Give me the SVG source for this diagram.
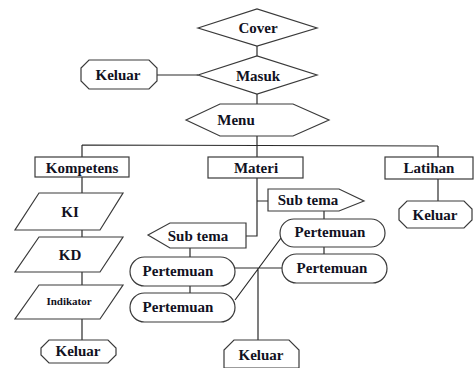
<svg xmlns="http://www.w3.org/2000/svg" width="476" height="368" viewBox="0 0 476 368">
<style>
.s{fill:#fff;stroke:#3a3a3a;stroke-width:1.2}
.c{fill:none;stroke:#2a2a2a;stroke-width:1.2}
text{font-family:"Liberation Serif","DejaVu Serif",serif;font-weight:bold;font-size:15px;fill:#111122;text-anchor:middle;dominant-baseline:central}
.sm{font-size:11px}
</style>
<rect width="476" height="368" fill="#fff"/>
<g id="connectors">
<path class="c" d="M257,46V56M157,75H198M257,94V104M257,136V145M82,145L438,146M82,145V157M257,145V157M438,146V157"/>
<path class="c" d="M82,177V193M82,230V237M82,272V285M82,319V340"/>
<path class="c" d="M438,179V201"/>
<path class="c" d="M257,178V236H246M257,201H268"/>
<path class="c" d="M190,248V257M190,286V293M324,211V219M324,247V254"/>
<path class="c" d="M235,268H282M235,300L281,238M258,268V340"/>
</g>
<g id="cover"><polygon class="s" points="198,28 257,9 317,28 257,46"/><text x="258" y="28">Cover</text></g>
<g id="masuk"><polygon class="s" points="198,75 257,56 317,75 257,94"/><text x="258" y="76">Masuk</text></g>
<g id="keluar1"><polygon class="s" points="89,60 149,60 157,68 157,81 149,89 89,89 81,81 81,68"/><text x="118" y="75">Keluar</text></g>
<g id="menu"><polygon class="s" points="186,120 220,104 293,104 329,120 293,136 220,136"/><text x="236" y="120">Menu</text></g>
<g id="kompetens"><rect class="s" x="35" y="157" width="94" height="20"/><text x="82" y="168">Kompetens</text></g>
<g id="materi"><rect class="s" x="208" y="157" width="95" height="21"/><text x="256" y="168">Materi</text></g>
<g id="latihan"><rect class="s" x="385" y="157" width="88" height="22"/><text x="429" y="168">Latihan</text></g>
<g id="keluar-latihan"><polygon class="s" points="407,201 464,201 472,209 472,220 464,228 407,228 399,220 399,209"/><text x="435" y="215">Keluar</text></g>
<g id="ki"><polygon class="s" points="39,193 123,193 100,230 15,230"/><text x="70" y="212">KI</text></g>
<g id="kd"><polygon class="s" points="39,237 123,237 100,272 15,272"/><text x="70" y="255">KD</text></g>
<g id="indikator"><polygon class="s" points="39,285 123,285 100,319 15,319"/><text class="sm" x="69" y="301">Indikator</text></g>
<g id="keluar-kompetens"><polygon class="s" points="49,340 108,340 116,348 116,355 108,363 49,363 41,355 41,348"/><text x="78" y="351">Keluar</text></g>
<g id="subtema-right"><polygon class="s" points="268,189 339,189 364,201 339,211 268,211"/><text x="308" y="200">Sub tema</text></g>
<g id="subtema-left"><polygon class="s" points="148,235 170,223 246,223 246,248 170,248"/><text x="198" y="236">Sub tema</text></g>
<g id="pertemuan-l1"><rect class="s" x="130" y="257" width="105" height="29" rx="14.5"/><text x="178" y="271">Pertemuan</text></g>
<g id="pertemuan-l2"><rect class="s" x="130" y="293" width="105" height="29" rx="14.5"/><text x="178" y="307">Pertemuan</text></g>
<g id="pertemuan-r1"><rect class="s" x="280" y="219" width="105" height="28" rx="14"/><text x="330" y="232">Pertemuan</text></g>
<g id="pertemuan-r2"><rect class="s" x="282" y="254" width="105" height="29" rx="14.5"/><text x="332" y="268">Pertemuan</text></g>
<g id="keluar-materi"><polygon class="s" points="234,340 289,340 299,350 299,368 224,368 224,350"/><text x="261" y="355">Keluar</text></g>
</svg>
